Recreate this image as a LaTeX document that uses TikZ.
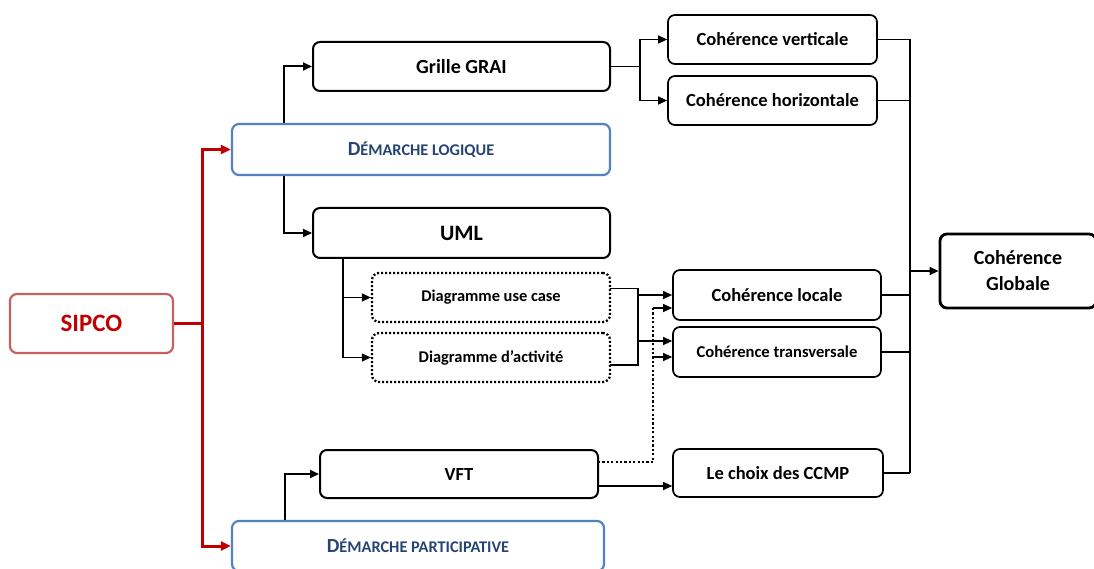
\documentclass[tikz,border=0pt]{standalone}
\usepackage{fontspec}
\setmainfont{Carlito}
\usetikzlibrary{arrows.meta}
\definecolor{sipcored}{RGB}{192,0,0}
\definecolor{sipcoedge}{RGB}{200,95,95}
\definecolor{blueedge}{RGB}{84,130,190}
\definecolor{bluetext}{RGB}{38,68,115}
\newcommand{\fs}[1]{\fontsize{#1}{#1}\selectfont}
\tikzset{
  box/.style={draw=black, rounded corners=7pt, line width=2pt, align=center,
    font=\bfseries\fs{20}, inner sep=0pt},
  sbox/.style={box, line width=1.7pt, font=\bfseries\fs{18.5}},
  dotbox/.style={sbox, dash pattern=on 2pt off 2pt, line width=2.3pt, font=\bfseries\fs{16.4}},
  bluebox/.style={box, draw=blueedge, line width=2.2pt, text=bluetext},
  redbox/.style={box, draw=sipcoedge, line width=2.2pt, text=sipcored, font=\bfseries\fs{25}},
  conn/.style={line width=1.2pt, -{Triangle[length=9pt,width=8pt]}},
  thin/.style={line width=1.2pt},
  mainconn/.style={line width=2pt, -{Triangle[length=9pt,width=8pt]}},
  redconn/.style={draw=sipcored, line width=3pt},
  redarrow/.style={redconn, -{Triangle[length=10pt,width=9pt]}},
  dotline/.style={line width=2.6pt, dash pattern=on 2.2pt off 2.2pt},
}
\begin{document}
\begin{tikzpicture}[x=1pt,y=-1pt]
\useasboundingbox (0,0) rectangle (1094,569);
\clip (0,0) rectangle (1094,569);

% boxes
\node[redbox, minimum width=163pt, minimum height=59pt] (sipco) at (91.5,323.5) {SIPCO};
\node[bluebox, minimum width=378pt, minimum height=51pt] (logique) at (421,149.5)
  {{\fs{20}D}{\fs{16.3}ÉMARCHE LOGIQUE}};
\node[bluebox, minimum width=372pt, minimum height=50pt] (particip) at (418,546)
  {{\fs{20}D}{\fs{16.3}ÉMARCHE PARTICIPATIVE}};
\node[box, minimum width=297pt, minimum height=49pt] (grai) at (461.5,66.5) {Grille GRAI};
\node[box, minimum width=297pt, minimum height=50pt, font=\bfseries\fs{22}] (uml) at (461.5,233) {UML};
\node[dotbox, minimum width=238pt, minimum height=49pt] (usecase) at (491,297.5) {Diagramme use case};
\node[dotbox, minimum width=238pt, minimum height=49pt] (activite) at (491,357.5) {Diagramme d’activité};
\node[box, minimum width=278pt, minimum height=48pt, font=\bfseries\fs{18.5}] (vft) at (459,474) {VFT};
\node[sbox, minimum width=209pt, minimum height=49pt] (vert) at (772.5,39.5) {Cohérence verticale};
\node[sbox, minimum width=209pt, minimum height=49pt] (horiz) at (772.5,100.5) {Cohérence horizontale};
\node[sbox, minimum width=208pt, minimum height=50pt] (locale) at (777,295) {Cohérence locale};
\node[sbox, minimum width=208pt, minimum height=50pt, font=\bfseries\fs{16.6}] (transv) at (777,352) {Cohérence transversale};
\node[sbox, minimum width=210pt, minimum height=48pt] (ccmp) at (778,473) {Le choix des CCMP};
\node[box, line width=2.8pt, minimum width=156pt, minimum height=74pt] (globale) at (1018,271)
  {Cohérence\\[6pt]Globale};

% SIPCO splits into the two approaches
\coordinate (rj) at (202,323.5);
\draw[redconn] (sipco.east) -- (rj);
\draw[redarrow] (rj) |- (logique.west);
\draw[redarrow] (rj) |- (particip.west);

% logical approach
\coordinate (lx) at (284,0);
\draw[mainconn] (logique.north -| lx) |- (grai.west);
\draw[mainconn] (logique.south -| lx) |- (uml.west);
\coordinate (ux) at (343,0);
\draw[conn] (uml.south -| ux) |- (usecase.west);
\draw[conn] (uml.south -| ux) |- (activite.west);

% GRAI grid to vertical / horizontal coherence
\coordinate (gj) at (640,66.5);
\draw[thin] (grai.east) -- (gj);
\draw[conn] (gj) |- (vert.west);
\draw[conn] (gj) |- (horiz.west);

% UML diagrams to local / transversal coherence
\coordinate (uo) at (610,288.5);
\coordinate (ao) at (610,365);
\coordinate (mt) at (638,288.5);
\coordinate (mb) at (638,365);
\coordinate (ml) at (638,295);
\coordinate (mr) at (638,341);
\draw[thin] (uo) -- (mt) -- (mb) -- (ao);
\draw[conn] (ml) -- (ml -| locale.west);
\draw[conn] (mr) -- (mr -| transv.west);

% participative approach
\coordinate (px) at (285,0);
\draw[mainconn] (particip.north -| px) |- (vft.west);
\coordinate (vd) at (598,462);
\coordinate (dl) at (653,308);
\coordinate (dt) at (653,357);
\draw[dotline] (vd) -| (dl);
\draw[conn] (dl) -- (dl -| locale.west);
\draw[conn] (dt) -- (dt -| transv.west);
\coordinate (vs) at (598,486);
\draw[conn] (vs) -- (vs -| ccmp.west);

% collector to global coherence
\coordinate (cx) at (910,0);
\draw[thin] (vert.east) -- (vert.east -| cx);
\draw[thin] (horiz.east) -- (horiz.east -| cx);
\draw[thin] (locale.east) -- (locale.east -| cx);
\draw[thin] (transv.east) -- (transv.east -| cx);
\draw[thin] (ccmp.east) -- (ccmp.east -| cx);
\draw[thin] (vert.east -| cx) -- (ccmp.east -| cx);
\draw[conn] (globale.west -| cx) -- (globale.west);
\end{tikzpicture}
\end{document}
